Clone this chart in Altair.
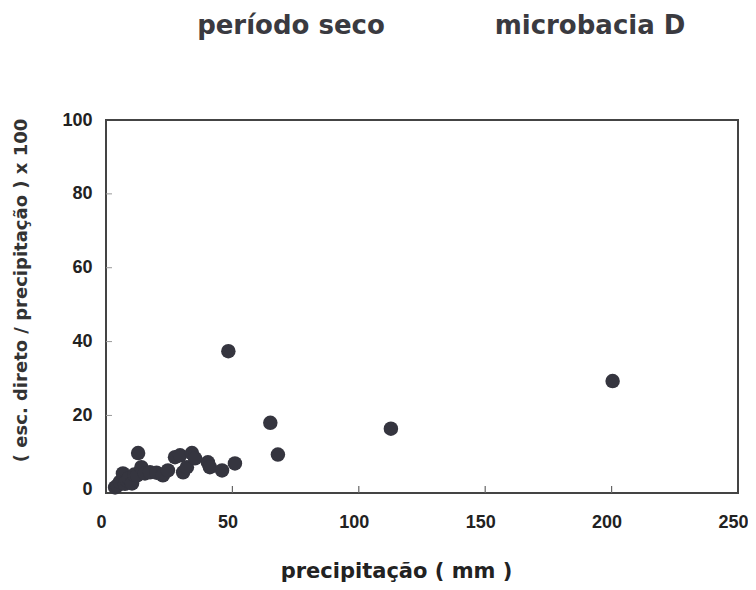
import altair as alt
import pandas as pd

# precipitation (mm) and (direct runoff / precipitation) x 100
precip = [3.6, 4.5, 5.5, 6.7, 7.5, 8.3, 9.0, 10.3, 11.2, 12.3, 12.7, 14.0, 15.4,
          17.4, 20.0, 22.5, 24.5, 27.3, 29.3, 30.5, 32.0, 34.0, 35.2, 40.3, 41.1,
          45.9, 51.0, 48.4, 65.0, 68.0, 112.7, 200.4]
ratio = [0.5, 1.0, 2.0, 4.3, 1.5, 2.4, 3.0, 1.6, 4.0, 3.8, 9.8, 6.0, 4.3,
         4.6, 4.5, 3.8, 5.1, 8.7, 9.2, 4.6, 6.0, 9.8, 8.4, 7.3, 6.0,
         5.1, 7.0, 37.4, 18.0, 9.4, 16.4, 29.3]

x_ticks = [50, 100, 150, 200]
y_ticks = [20, 40, 60, 80]

title_left = "período seco"
title_right = "microbacia D"
x_title = "precipitação ( mm )"
y_title = "( esc. direto / precipitação ) x 100"

W, H = 632, 373
FONT = "DejaVu Sans"
NUMFONT = "Liberation Sans"
PT = "#35353f"

df = pd.DataFrame({"p": precip, "r": ratio})

xs = alt.Scale(domain=[0, 250], nice=False, zero=False)
ys = alt.Scale(domain=[-1, 100], nice=False, zero=False)

x_axis = alt.Axis(
    values=[0, 50, 100, 150, 200, 250], title=x_title, grid=False, ticks=False,
    domain=False, labelFont=NUMFONT, labelFontSize=18, labelFontWeight="bold",
    labelColor="#222", labelPadding=20, labelOffset=-5, labelFlush=False,
    titleFont=FONT, titleFontSize=21, titleFontWeight="bold", titleColor="#222",
    titleX=290, titleY=84, titleAlign="center", titleBaseline="alphabetic")
y_axis = alt.Axis(
    values=[0, 20, 40, 60, 80, 100], title=y_title, grid=False, ticks=False,
    domain=False, labelFont=NUMFONT, labelFontSize=18, labelFontWeight="bold",
    labelColor="#222", labelPadding=14, labelFlush=False,
    titleFont=FONT, titleFontSize=18, titleFontWeight="bold", titleColor="#333",
    titleX=-85, titleY=170, titleAngle=270, titleAlign="center",
    titleBaseline="middle")

pts = alt.Chart(df).mark_circle(size=210, opacity=1, color=PT).encode(
    x=alt.X("p:Q", scale=xs, axis=x_axis, title=x_title),
    y=alt.Y("r:Q", scale=ys, axis=y_axis, title=y_title),
)

yt = alt.Chart(pd.DataFrame({"v": y_ticks})).mark_rule(color="#999", strokeWidth=1).encode(
    y=alt.Y("v:Q", scale=ys, axis=y_axis, title=y_title), x=alt.value(0), x2=alt.value(6))
xt = alt.Chart(pd.DataFrame({"v": x_ticks})).mark_rule(color="#666", strokeWidth=1.2).encode(
    x=alt.X("v:Q", scale=xs, axis=x_axis, title=x_title), y=alt.value(H), y2=alt.value(H - 7))

tstyle = dict(font=FONT, fontSize=26, fontWeight="bold", color="#3a3a40",
              baseline="middle", align="center", clip=False)
t1 = alt.Chart(pd.DataFrame({"t": [title_left]})).mark_text(**tstyle).encode(
    text="t:N", x=alt.value(185), y=alt.value(-94))
t2 = alt.Chart(pd.DataFrame({"t": [title_right]})).mark_text(**tstyle).encode(
    text="t:N", x=alt.value(484), y=alt.value(-94))

chart = alt.layer(pts, yt, xt, t1, t2).properties(
    width=W, height=H,
    autosize=alt.AutoSizeParams(type="none"),
    padding={"left": 98, "top": 112, "right": 10, "bottom": 89},
).configure(background="white").configure_view(stroke="#444", strokeWidth=2)

chart.save("out.html", embed_options={"renderer": "svg", "actions": False})
